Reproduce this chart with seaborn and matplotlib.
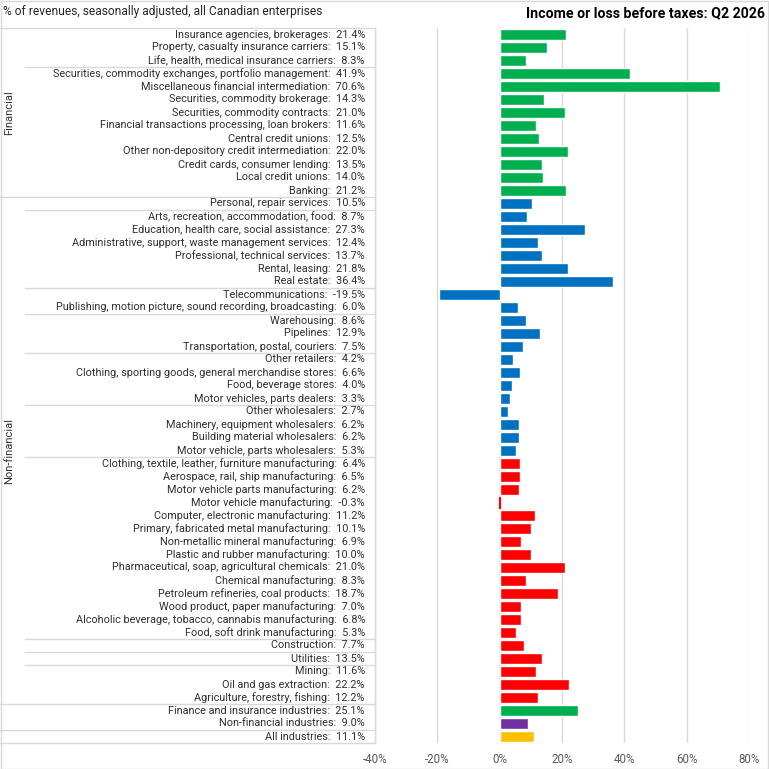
import matplotlib
matplotlib.use("Agg")
import matplotlib.pyplot as plt
import matplotlib.transforms as mtransforms
from matplotlib.patches import Rectangle
import seaborn as sns
import pandas as pd

# ---------------- data ----------------
industries = [
    "Insurance agencies, brokerages",
    "Property, casualty insurance carriers",
    "Life, health, medical insurance carriers",
    "Securities, commodity exchanges, portfolio management",
    "Miscellaneous financial intermediation",
    "Securities, commodity brokerage",
    "Securities, commodity contracts",
    "Financial transactions processing, loan brokers",
    "Central credit unions",
    "Other non-depository credit intermediation",
    "Credit cards, consumer lending",
    "Local credit unions",
    "Banking",
    "Personal, repair services",
    "Arts, recreation, accommodation, food",
    "Education, health care, social assistance",
    "Administrative, support, waste management services",
    "Professional, technical services",
    "Rental, leasing",
    "Real estate",
    "Telecommunications",
    "Publishing, motion picture, sound recording, broadcasting",
    "Warehousing",
    "Pipelines",
    "Transportation, postal, couriers",
    "Other retailers",
    "Clothing, sporting goods, general merchandise stores",
    "Food, beverage stores",
    "Motor vehicles, parts dealers",
    "Other wholesalers",
    "Machinery, equipment wholesalers",
    "Building material wholesalers",
    "Motor vehicle, parts wholesalers",
    "Clothing, textile, leather, furniture manufacturing",
    "Aerospace, rail, ship manufacturing",
    "Motor vehicle parts manufacturing",
    "Motor vehicle manufacturing",
    "Computer, electronic manufacturing",
    "Primary, fabricated metal manufacturing",
    "Non-metallic mineral manufacturing",
    "Plastic and rubber manufacturing",
    "Pharmaceutical, soap, agricultural chemicals",
    "Chemical manufacturing",
    "Petroleum refineries, coal products",
    "Wood product, paper manufacturing",
    "Alcoholic beverage, tobacco, cannabis manufacturing",
    "Food, soft drink manufacturing",
    "Construction",
    "Utilities",
    "Mining",
    "Oil and gas extraction",
    "Agriculture, forestry, fishing",
    "Finance and insurance industries",
    "Non-financial industries",
    "All industries",
]
values = [
    21.4, 15.1, 8.3, 41.9, 70.6, 14.3, 21.0, 11.6, 12.5, 22.0, 13.5, 14.0, 21.2,
    10.5, 8.7, 27.3, 12.4, 13.7, 21.8, 36.4, -19.5, 6.0, 8.6, 12.9, 7.5,
    4.2, 6.6, 4.0, 3.3, 2.7, 6.2, 6.2, 5.3,
    6.4, 6.5, 6.2, -0.3, 11.2, 10.1, 6.9, 10.0, 21.0, 8.3, 18.7, 7.0, 6.8, 5.3,
    7.7, 13.5, 11.6, 22.2, 12.2,
    25.1, 9.0, 11.1,
]
kinds = (["financial"] * 13 + ["services"] * 20 + ["goods"] * 19
         + ["financial", "nonfinancial", "all"])

# top-level groups (label, number of rows) and sub-groups sizes
top_groups = [("Financial", 13), ("Non-financial", 39), ("", 2), ("", 1)]
sub_groups = [[3, 10], [1, 6, 2, 3, 4, 4, 14, 1, 1, 3], [2], [1]]

title = "Income or loss before taxes: Q2 2026"
subtitle = "% of revenues, seasonally adjusted, all Canadian enterprises"
xticks = [-40, -20, 0, 20, 40, 60, 80]

kind_colors = {"financial": "#00B050", "services": "#0070C0", "goods": "#FF0000",
               "nonfinancial": "#7030A0", "all": "#FFC000"}

labels = [f"{n}:  {v:.1f}%" for n, v in zip(industries, values)]
df = pd.DataFrame({"label": labels, "value": values, "kind": kinds})
palette = {l: kind_colors[k] for l, k in zip(labels, kinds)}

# ---------------- figure ----------------
sns.set_theme(style="white")
plt.rcParams["font.family"] = ["Roboto", "DejaVu Sans"]

W = H = 769
fig = plt.figure(figsize=(W / 100, H / 100), dpi=100)
px_left, px_right, px_top, px_bottom = 375, 749, 28, 743
ax = fig.add_axes([px_left / W, 1 - px_bottom / H,
                   (px_right - px_left) / W, (px_bottom - px_top) / H])

grid_c = "#D9D9D9"
for t in xticks:
    ax.axvline(t, color=grid_c, lw=1, zorder=0)

sns.barplot(data=df, y="label", x="value", hue="label", palette=palette,
            orient="h", width=0.78, legend=False, ax=ax, zorder=2,
            saturation=1)
for bar in ax.patches:
    if abs(bar.get_width()) < 1:
        bar.set_edgecolor(bar.get_facecolor())
        bar.set_linewidth(0.8)

ax.set_xlim(-40, 80)
ax.set_ylim(len(labels) - 0.5, -0.5)
ax.set_xticks(xticks)
ax.set_xticklabels([f"{t}%" for t in xticks], color="#595959", fontsize=8.3)
ax.tick_params(axis="x", length=0, pad=7)
ax.tick_params(axis="y", length=0, labelleft=False)
ax.set_xlabel("")
ax.set_ylabel("")
for s in ["top", "right", "bottom"]:
    ax.spines[s].set_visible(False)
ax.spines["left"].set_color(grid_c)
ax.spines["left"].set_linewidth(1)

trans = mtransforms.blended_transform_factory(ax.transAxes, ax.transData)
span = px_right - px_left

# category labels (right-aligned next to the category axis)
for i, lab in enumerate(labels):
    ax.text((365 - px_left) / span, i, lab, transform=trans, ha="right",
            va="center", fontsize=7.85, color="#303030", clip_on=False)

# category separator lines
x_full = -px_left / span
x_part = (25 - px_left) / span
ax.plot([x_full, 0], [-0.5, -0.5], transform=trans, color=grid_c, lw=1, clip_on=False)
start = 0
for (gname, gsize), subs in zip(top_groups, sub_groups):
    s = start
    for k in subs[:-1]:
        s += k
        ax.plot([x_part, 0], [s - 0.5, s - 0.5], transform=trans, color=grid_c,
                lw=1, clip_on=False)
    end = start + gsize
    ax.plot([x_full, 0], [end - 0.5, end - 0.5], transform=trans, color=grid_c,
            lw=1, clip_on=False)
    if gname:
        ax.text((9 - px_left) / span, (start + end - 1) / 2, gname,
                transform=trans, rotation=90, ha="center", va="center",
                fontsize=8, color="#303030")
    start = end

fig.text(3 / W, 1 - 11 / H, subtitle, ha="left", va="center", fontsize=8.65,
         color="#262626")
fig.text(765 / W, 1 - 13 / H, title, ha="right", va="center", fontsize=10.2,
         fontweight="bold", color="#000000")

fig.patches.append(Rectangle((0.5 / W, 0.5 / H), 1 - 1.5 / W, 1 - 1.5 / H,
                             transform=fig.transFigure, fill=False,
                             edgecolor=grid_c, lw=1))

fig.savefig("out.png", dpi=100)
